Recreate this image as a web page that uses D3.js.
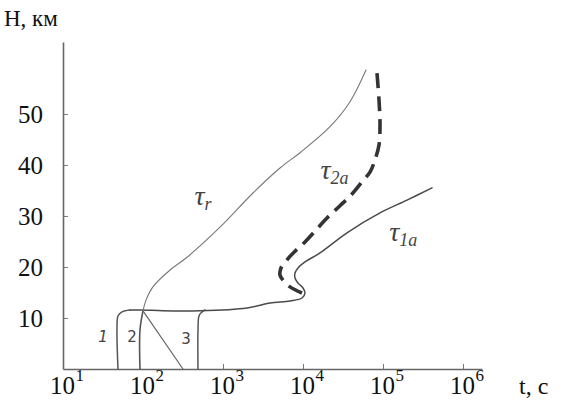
<!DOCTYPE html>
<html><head><meta charset="utf-8">
<script src="https://cdn.jsdelivr.net/npm/d3@7"></script>
<style>
html,body{margin:0;padding:0;background:#fff;}
svg{display:block;}
</style></head>
<body>
<svg id="c" width="563" height="404"></svg>
<script>
// ---- data (t in seconds, H in km) ----
const xTicks = [1e1, 1e2, 1e3, 1e4, 1e5, 1e6];
const xTickExp = ["1", "2", "3", "4", "5", "6"];
const yTicks = [10, 20, 30, 40, 50];
const yTickLabels = ["10", "20", "30", "40", "50"];

const curve1T = [48.7, 47.3, 48.7, 54.6, 68.8];
const curve1H = [0, 7.65, 10.4, 11.2, 11.57];

const curve2T = [91.7, 91.7, 100];
const curve2H = [0, 7.65, 11.4];

const diagT = [100, 316];
const diagH = [11.4, 0];

const curve3T = [487, 487, 501, 540, 596];
const curve3H = [0, 7.65, 10.4, 11.1, 11.57];

const tau1aT = [68.8, 100, 178, 516, 1995, 3869, 6877, 9716, 10593, 10000, 8660, 7943, 7943, 8660, 10593, 16315, 35480, 91730, 199500, 409700];
const tau1aH = [11.57, 11.57, 11.4, 11.4, 11.96, 12.94, 13.33, 13.92, 14.9, 15.88, 16.86, 17.84, 18.82, 19.8, 20.98, 22.75, 26.7, 30.6, 33.1, 35.5];

const tauRT = [100, 109, 133, 218, 355, 917, 2371, 5158, 9173, 21750, 38700, 61300];
const tauRH = [11.4, 13.5, 16.1, 19.4, 21.9, 27.8, 34.5, 39.4, 42.4, 47.5, 52.4, 58.6];

const tau2aT = [84140, 89125, 91730, 89125, 79430, 68770, 54630, 40970, 29000, 19950, 14540, 10593, 7943, 6310, 5309, 5158, 5623, 6877, 9716];
const tau2aH = [58.0, 52.75, 47.8, 43.9, 41.0, 38.6, 36.7, 34.3, 32.0, 29.6, 27.25, 24.9, 23.1, 21.4, 19.8, 18.4, 17.45, 16.1, 14.9];

const curveNumbers = ["1", "2", "3"];

// ---- scales ----
const x = d3.scaleLog().domain([10, Math.pow(10, 6.2375)]).range([63, 482]);
const y = d3.scaleLinear().domain([0, 64.1]).range([369, 42]);

const svg = d3.select("#c");
const zip = (a, b) => a.map((v, i) => [v, b[i]]);
const line = d3.line().x(d => x(d[0])).y(d => y(d[1])).curve(d3.curveCatmullRom.alpha(0.5));
const SERIF = '"Liberation Serif", serif';

// ---- axes ----
const gx = svg.append("g").attr("transform", `translate(0,${y(0)})`)
  .call(d3.axisBottom(x).tickValues(xTicks).tickSizeInner(-5).tickSizeOuter(0).tickPadding(6).tickFormat(() => "10"));
const gy = svg.append("g").attr("transform", `translate(${x(10)},0)`)
  .call(d3.axisLeft(y).tickValues(yTicks).tickSizeInner(-5).tickSizeOuter(0).tickPadding(20).tickFormat((d, i) => yTickLabels[i]));

[gx, gy].forEach(g => {
  g.attr("font-family", null).attr("font-size", null);
  g.select(".domain").attr("stroke", "#666").attr("stroke-width", 1.6);
  g.selectAll(".tick line").attr("stroke", "#777").attr("stroke-width", 1);
  g.selectAll(".tick text").attr("fill", "#111")
    .style("font-family", SERIF).style("font-size", "25px");
});
gx.selectAll(".tick line").filter(d => d <= 100).remove();
gx.selectAll(".tick text").attr("dy", null).attr("y", 25).attr("x", -1);
gx.selectAll(".tick").append("text")
  .attr("x", 12).attr("y", 12)
  .attr("text-anchor", "start")
  .attr("fill", "#111")
  .style("font-family", SERIF).style("font-size", "17px")
  .text((d, i) => xTickExp[i]);
gy.selectAll(".tick text").attr("dy", "0.34em");

// axis titles
svg.append("text").attr("x", 4).attr("y", 26)
  .style("font-family", SERIF).style("font-size", "23px").attr("fill", "#111")
  .text("H, км");
svg.append("text").attr("x", 519).attr("y", 394)
  .style("font-family", SERIF).style("font-size", "24px").attr("fill", "#111")
  .text("t, c");

// ---- curves ----
const thin = (t, h, w, c) => svg.append("path").datum(zip(t, h)).attr("d", line)
  .attr("fill", "none").attr("stroke", c).attr("stroke-width", w).attr("stroke-linecap", "round").attr("stroke-linejoin", "round");

thin(curve1T, curve1H, 1.5, "#555");
thin(curve2T, curve2H, 1.6, "#555");
thin(diagT, diagH, 1.2, "#666");
thin(curve3T, curve3H, 1.5, "#555");
thin(tau1aT, tau1aH, 1.5, "#4a4a4a");
thin(tauRT, tauRH, 1.1, "#777");
svg.append("path").datum(zip(tau2aT, tau2aH)).attr("d", line)
  .attr("fill", "none").attr("stroke", "#333").attr("stroke-width", 3.6)
  .attr("stroke-dasharray", "15,8").attr("stroke-linecap", "butt");

// ---- labels ----
const numPos = [[x(31.6), y(5.3)], [x(73), y(5.3)], [x(345), y(4.9)]];
svg.selectAll(".num").data(curveNumbers).enter().append("text")
  .attr("x", (d, i) => numPos[i][0]).attr("y", (d, i) => numPos[i][1])
  .attr("text-anchor", "middle")
  .style("font-family", '"DejaVu Sans", sans-serif').style("font-size", "15px").style("font-style", (d, i) => i === 0 ? "italic" : "normal")
  .attr("fill", "#444").text(d => d);

function tauLabel(px, py, sub) {
  const t = svg.append("text").attr("x", px).attr("y", py).attr("fill", "#444")
    .style("font-family", SERIF).style("font-style", "italic");
  t.append("tspan").style("font-size", "28px").text("τ");
  t.append("tspan").attr("dy", 5).style("font-size", "18px").text(sub);
}
tauLabel(x(440), y(32.2), "r");
tauLabel(x(16500), y(37.2), "2a");
tauLabel(x(120000), y(25.0), "1a");
</script>
</body></html>
